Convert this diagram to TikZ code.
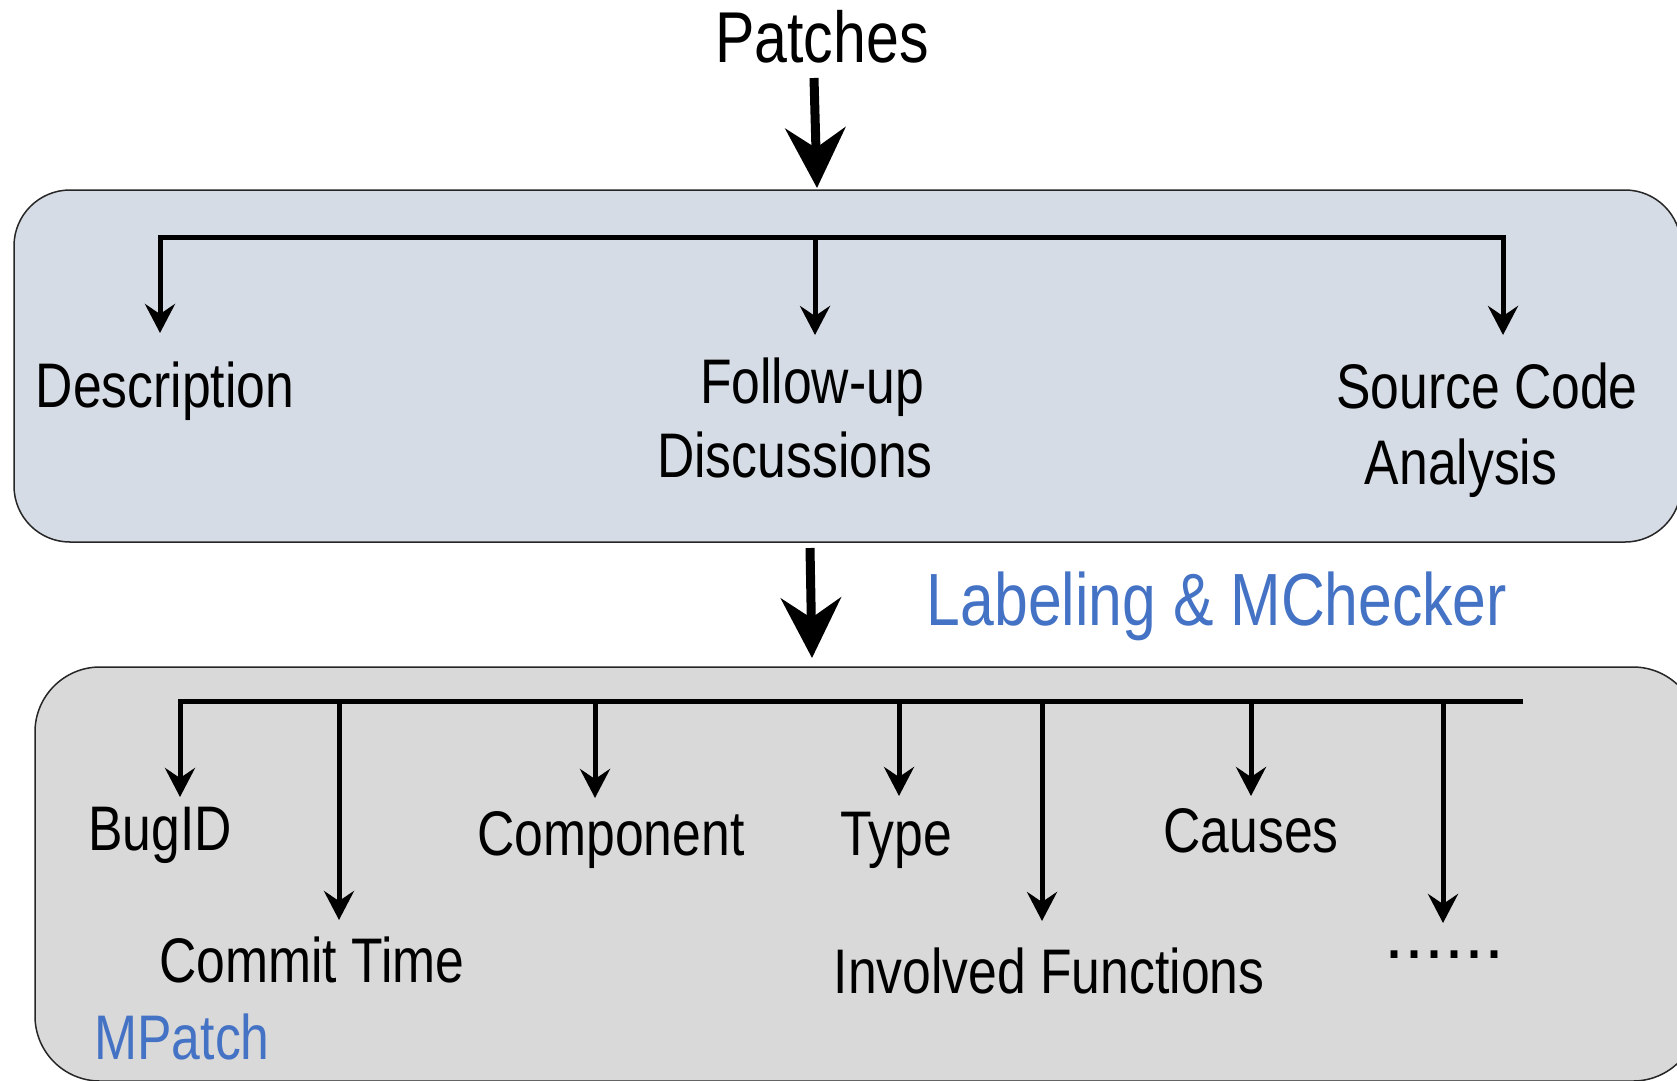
\documentclass[tikz,border=0pt]{standalone}
\usepackage{fontspec}
\setmainfont[FakeStretch=0.82]{Liberation Sans}
\newfontfamily\plainfont{Liberation Sans}
\usetikzlibrary{arrows.meta}
\definecolor{topfill}{HTML}{D6DCE5}
\definecolor{botfill}{HTML}{D9D9D9}
\definecolor{lblue}{HTML}{4472C4}
\begin{document}
\begin{tikzpicture}[x=1pt,y=-1pt,
  lbl/.style={inner sep=0pt,anchor=base,font=\fontsize{63}{70}\selectfont},
  boxline/.style={draw=black!85,line width=1.5pt},
  tree/.style={line width=5pt},
  arr/.style={tree,-{Stealth[length=29pt,width=30pt,inset=10pt]}},
  bigarr/.style={line width=9pt,-{Stealth[length=60pt,width=60pt,inset=20pt]}}]
\useasboundingbox (0,0) rectangle (1677,1080);
\clip (0,0) rectangle (1677,1080);
\fill[white] (0,0) rectangle (1677,1080);
% boxes
\draw[boxline,fill=topfill,rounded corners=56pt] (14,190) rectangle (1681,542);
\draw[boxline,fill=botfill,rounded corners=65pt] (35,667) rectangle (1698,1081);
% texts
\node[lbl,font=\fontsize{72}{72}\selectfont] (patches) at (822,62) {Patches};
\node[lbl] (desc) at (165,407) {Description};
\node[lbl] (fu1) at (812,403) {Follow-up};
\node[lbl] (fu2) at (795,477) {Discussions};
\node[lbl] (sc1) at (1487,408) {Source Code};
\node[lbl] (sc2) at (1461,484) {Analysis};
\node[lbl,text=lblue,font=\fontsize{74}{80}\selectfont] (label) at (1217,625) {Labeling \& MChecker};
\node[lbl] (bug) at (160,850) {BugID};
\node[lbl] (commit) at (312,982) {Commit Time};
\node[lbl] (comp) at (611,855) {Component};
\node[lbl] (type) at (896,855) {Type};
\node[lbl] (causes) at (1251,852) {Causes};
\node[lbl] (inv) at (1049,993) {Involved Functions};
\node[lbl,font=\plainfont\fontsize{72}{72}\selectfont] (dots) at (1444,958) {......};
\node[lbl,text=lblue] (mpatch) at (182,1059) {MPatch};
% big arrows
\coordinate (pTail) at (814,78);
\coordinate (pTip) at (817,188);
\draw[bigarr] (pTail) -- (pTip);
\coordinate (mTail) at (810,548);
\coordinate (mTip) at (812,658);
\draw[bigarr] (mTail) -- (mTip);
% top tree
\coordinate (tL) at (160,237);
\coordinate (tM) at (815,237);
\coordinate (tR) at (1503,237);
\coordinate (descTip) at (160,333);
\coordinate (fuTip) at (815,335);
\coordinate (scTip) at (1503,335);
\draw[arr] (tR) -- (tL) -- (descTip);
\draw[arr,line cap=rect] (tR) -- (scTip);
\draw[arr] (tM) -- (fuTip);
% bottom tree
\coordinate (bL) at (180,701);
\coordinate (bR) at (1523,701);
\coordinate (bugTip) at (180,797);
\coordinate (cmtTop) at (339,701);
\coordinate (cmtTip) at (339,920);
\coordinate (cmpTop) at (595,701);
\coordinate (cmpTip) at (595,798);
\coordinate (typTop) at (899,701);
\coordinate (typTip) at (899,796);
\coordinate (invTop) at (1042,701);
\coordinate (invTip) at (1042,921);
\coordinate (cauTop) at (1251,701);
\coordinate (cauTip) at (1251,796);
\coordinate (dotTop) at (1443,701);
\coordinate (dotTip) at (1443,923);
\draw[arr] (bR) -- (bL) -- (bugTip);
\draw[arr] (cmtTop) -- (cmtTip);
\draw[arr] (cmpTop) -- (cmpTip);
\draw[arr] (typTop) -- (typTip);
\draw[arr] (invTop) -- (invTip);
\draw[arr] (cauTop) -- (cauTip);
\draw[arr] (dotTop) -- (dotTip);
\end{tikzpicture}
\end{document}
